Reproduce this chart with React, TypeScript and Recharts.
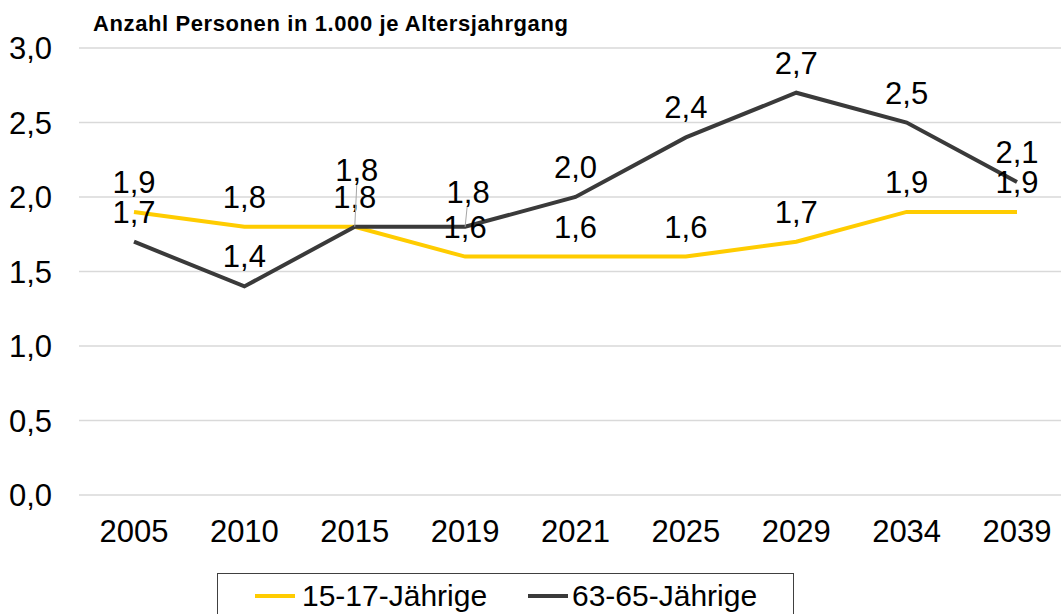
import React from 'react';
import { LineChart, Line, XAxis, YAxis, CartesianGrid, LabelList } from 'recharts';

const categories = ['2005', '2010', '2015', '2019', '2021', '2025', '2029', '2034', '2039'];
const youth = [1.9, 1.8, 1.8, 1.6, 1.6, 1.6, 1.7, 1.9, 1.9];
const seniors = [1.7, 1.4, 1.8, 1.8, 2.0, 2.4, 2.7, 2.5, 2.1];
const yTicks = [0, 0.5, 1, 1.5, 2, 2.5, 3];
const seriesNames = ['15-17-Jährige', '63-65-Jährige'];
const title = 'Anzahl Personen in 1.000 je Altersjahrgang';

const data = categories.map((c, i) => ({ year: c, youth: youth[i], seniors: seniors[i] }));

const YELLOW = '#FFCC00';
const DARK = '#3A3A3A';
const FONT = '"Liberation Sans", Arial, sans-serif';
const fmt = (v: number) => v.toFixed(1).replace('.', ',');

const makeLabel = (key: string) => (props: any) => {
  const { x, y, value, index } = props;
  let dy = -30;
  let dx = 0;
  let leader = false;
  if (key === 'seniors' && index === 2) { dy = -57; dx = 2; leader = true; }
  if (key === 'seniors' && index === 3) { dy = -35; dx = 3; leader = true; }
  return (
    <g>
      {leader && (
        <line x1={x} y1={y} x2={x + 2} y2={y + dy + 15} stroke="#A6A6A6" strokeWidth={1} />
      )}
      <text x={x + dx} y={y + dy} dy="0.355em" textAnchor="middle" fontSize={31} fill="#000" fontFamily={FONT}>
        {fmt(value)}
      </text>
    </g>
  );
};

export default function App() {
  return (
    <div style={{ position: 'absolute', left: 0, top: 0, width: 1061, height: 614, overflow: 'hidden', background: '#fff', fontFamily: FONT }}>
      <div style={{ position: 'absolute', left: 0, top: 0 }}>
        <LineChart width={1072} height={614} data={data} margin={{ top: 48, right: 0, bottom: 79, left: 0 }}>
          <CartesianGrid vertical={false} stroke="#D9D9D9" strokeWidth={1.3} />
          <XAxis
            dataKey="year"
            height={40}
            axisLine={false}
            tickLine={false}
            tickSize={0}
            tickMargin={25}
            padding={{ left: 55, right: 55 }}
            tick={{ fontSize: 31, fill: '#000', fontFamily: FONT }}
            interval={0}
          />
          <YAxis
            width={79}
            domain={[0, 3]}
            ticks={yTicks}
            axisLine={false}
            tickLine={false}
            tickSize={0}
            tickMargin={27}
            tickFormatter={fmt}
            tick={{ fontSize: 31, fill: '#000', fontFamily: FONT }}
          />
          <Line type="linear" dataKey="youth" stroke={YELLOW} strokeWidth={4} dot={false} isAnimationActive={false}>
            <LabelList dataKey="youth" content={makeLabel('youth')} />
          </Line>
          <Line type="linear" dataKey="seniors" stroke={DARK} strokeWidth={4} dot={false} isAnimationActive={false}>
            <LabelList dataKey="seniors" content={makeLabel('seniors')} />
          </Line>
        </LineChart>
      </div>
      <div style={{ position: 'absolute', left: 93, top: 13, fontSize: 22, lineHeight: '22px', letterSpacing: '0.6px', fontWeight: 'bold', color: '#000', whiteSpace: 'nowrap' }}>
        {title}
      </div>
      <div style={{ position: 'absolute', left: 217, top: 573, width: 577, height: 44, boxSizing: 'border-box', border: '1px solid #404040', background: '#fff' }}>
        <div style={{ position: 'absolute', left: 37, top: 20, width: 40, height: 4, background: YELLOW }} />
        <div style={{ position: 'absolute', left: 84, top: 4, fontSize: 30, lineHeight: '36px', color: '#000', whiteSpace: 'nowrap' }}>{seriesNames[0]}</div>
        <div style={{ position: 'absolute', left: 310, top: 20, width: 40, height: 4, background: DARK }} />
        <div style={{ position: 'absolute', left: 354, top: 4, fontSize: 30, lineHeight: '36px', color: '#000', whiteSpace: 'nowrap' }}>{seriesNames[1]}</div>
      </div>
    </div>
  );
}
